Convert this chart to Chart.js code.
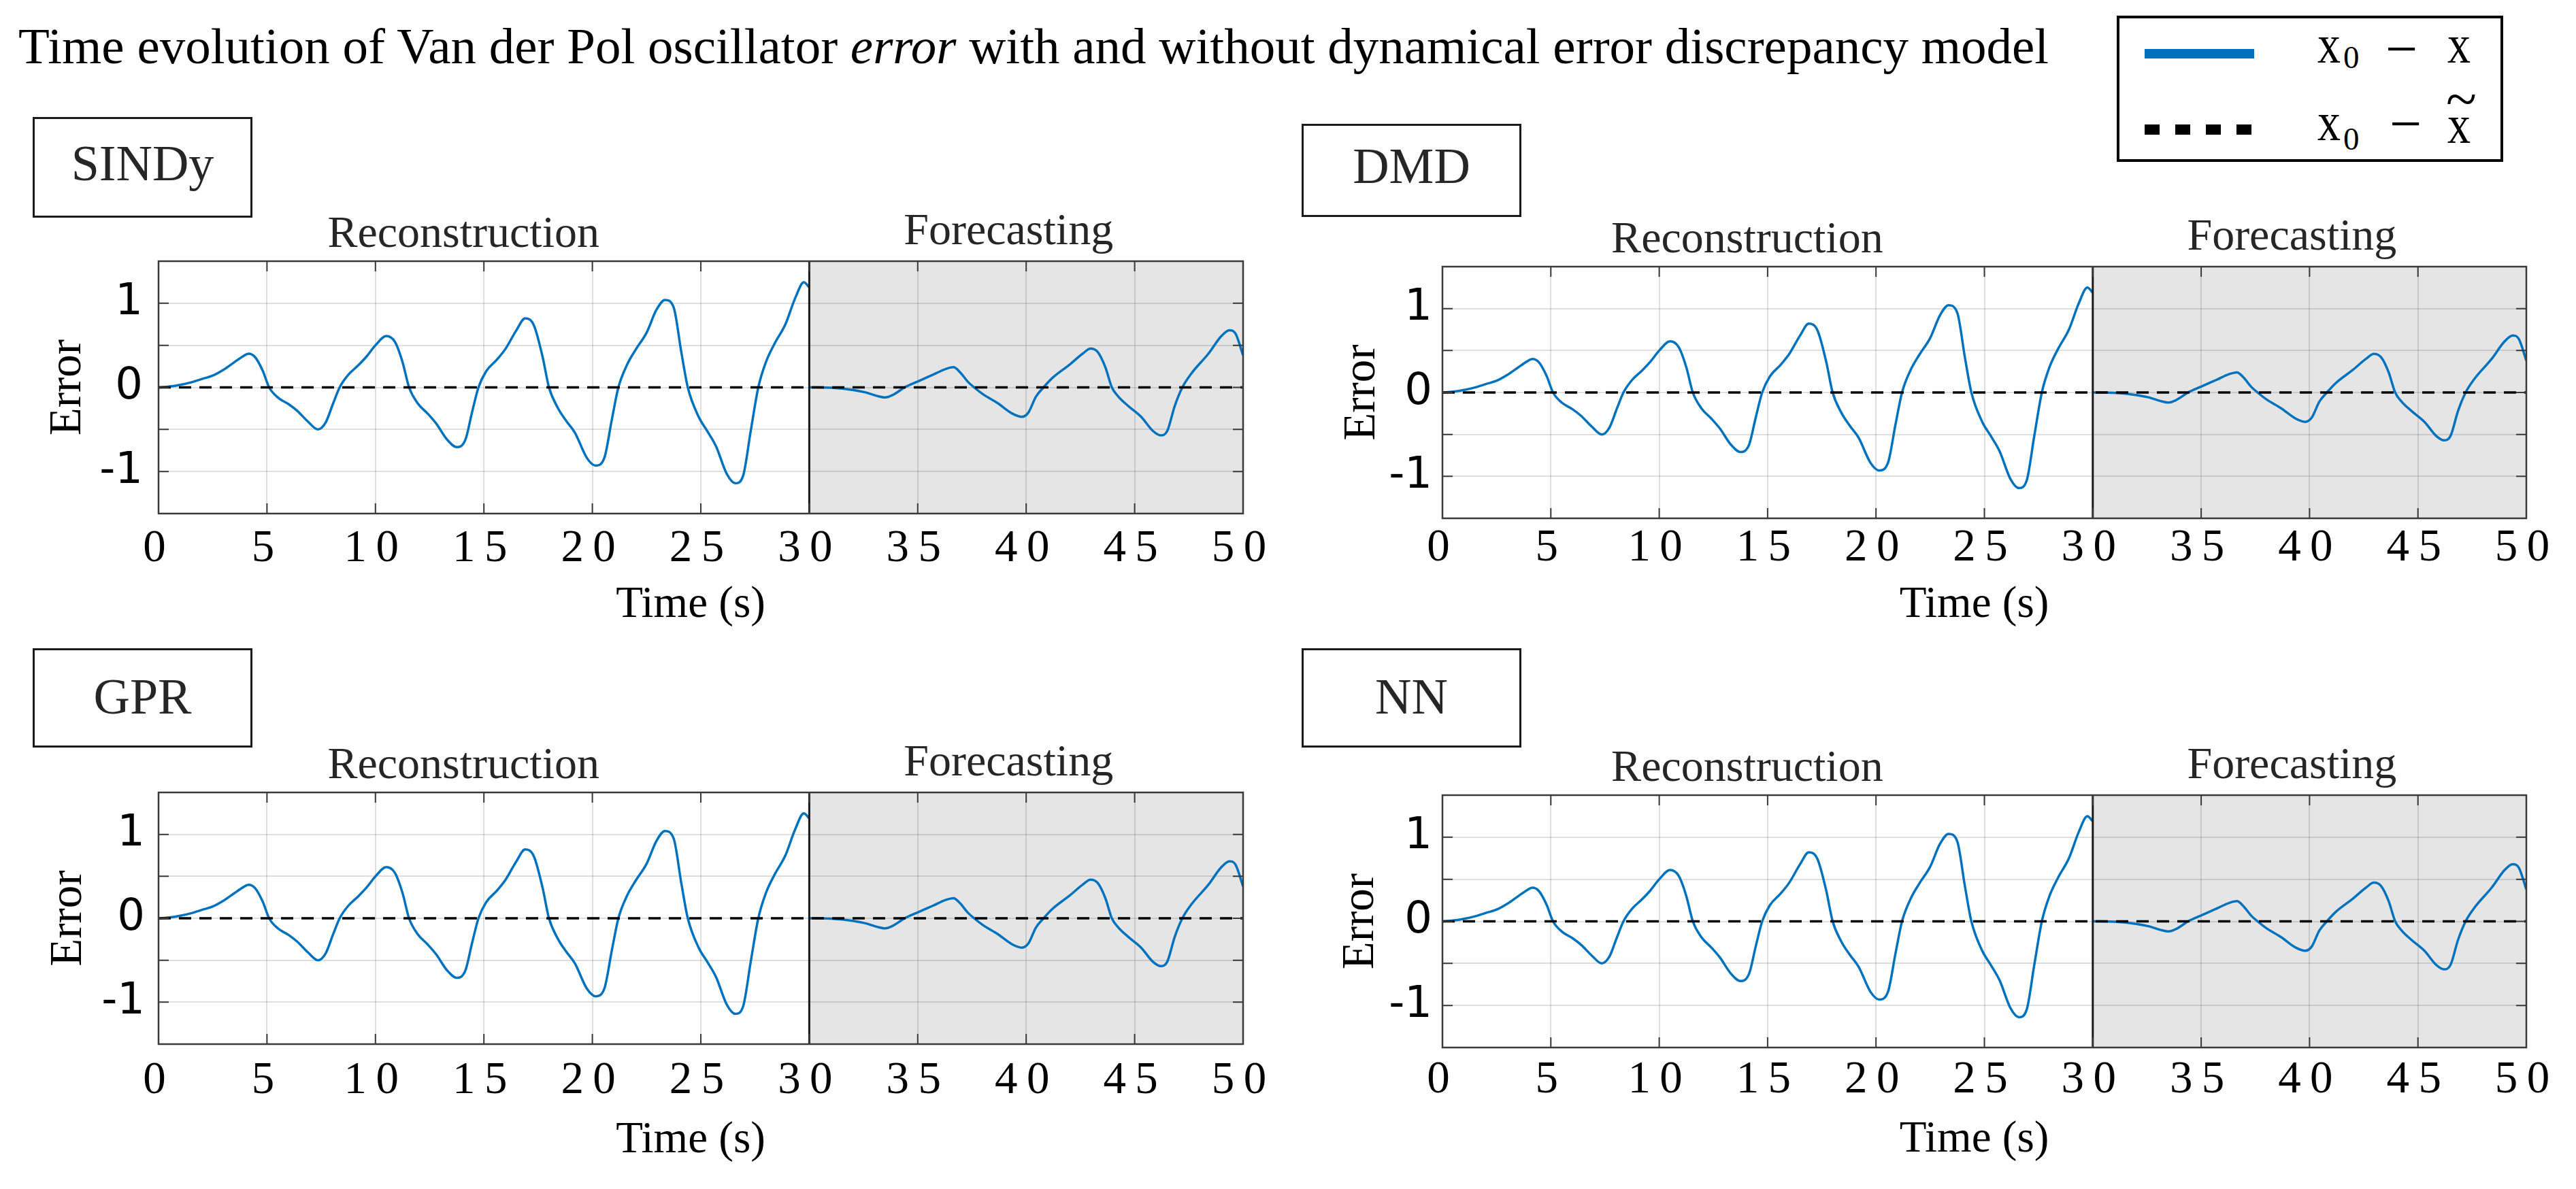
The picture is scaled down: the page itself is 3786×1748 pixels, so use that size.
<!DOCTYPE html>
<html><head><meta charset="utf-8">
<script src="https://cdn.jsdelivr.net/npm/chart.js@4.4.1/dist/chart.umd.min.js"></script>
<style>
html,body{margin:0;padding:0;background:#fff;}
#page{position:relative;width:3786px;height:1748px;overflow:hidden;background:#fff;font-family:"Liberation Serif","Times New Roman",serif;}
.abs{position:absolute;white-space:nowrap;}
canvas{position:absolute;}
.mbox{position:absolute;box-sizing:border-box;border:3px solid #1a1a1a;background:#fff;}
</style></head><body><div id="page"></div>
<script>
// ---------------- DATA ----------------
const methods = ['SINDy', 'DMD', 'GPR', 'NN'];
const phaseNames = ['Reconstruction', 'Forecasting'];
const phaseBounds = [0, 30, 50];
const xAxisTitle = 'Time (s)';
const yAxisTitle = 'Error';

// x0 - x  (reconstruction window)
const reconTime = [0.0,0.5,1.0,1.5,2.0,2.5,3.0,3.5,3.9,4.15,4.45,4.8,5.1,5.5,6.0,6.4,6.9,7.35,7.7,8.05,8.35,8.75,9.2,9.6,10.0,10.5,10.9,11.25,11.55,11.95,12.4,12.8,13.3,13.75,14.15,14.45,14.75,15.1,15.6,16.0,16.5,16.9,17.3,17.7,18.0,18.4,18.8,19.2,19.75,20.15,20.55,20.9,21.2,21.6,22.0,22.5,22.95,23.35,23.75,24.1,24.4,24.9,25.3,25.7,26.2,26.6,26.95,27.3,27.65,28.0,28.4,28.9,29.35,29.75,30.0];
const reconError = [0.00,0.01,0.03,0.06,0.10,0.14,0.21,0.30,0.37,0.40,0.36,0.20,0.00,-0.12,-0.20,-0.28,-0.41,-0.50,-0.42,-0.19,0.00,0.15,0.26,0.37,0.50,0.61,0.54,0.30,0.00,-0.19,-0.31,-0.43,-0.62,-0.71,-0.62,-0.30,0.00,0.19,0.33,0.46,0.68,0.82,0.74,0.37,0.00,-0.24,-0.40,-0.54,-0.84,-0.93,-0.84,-0.38,0.00,0.27,0.45,0.65,0.92,1.04,0.95,0.42,0.00,-0.35,-0.52,-0.70,-1.03,-1.14,-1.05,-0.52,0.00,0.30,0.52,0.75,1.06,1.25,1.19];
// x0 - x  (forecasting window)
const forecastTime = [30.0,31.0,32.0,32.6,33.1,33.5,33.85,34.4,35.0,35.7,36.3,36.65,36.95,37.3,37.65,38.0,38.7,39.35,39.8,40.1,40.45,40.8,41.2,42.0,42.6,42.97,43.3,43.65,43.95,44.25,44.7,45.3,45.85,46.2,46.5,46.85,47.2,47.6,48.4,49.0,49.37,49.65,50.0];
const forecastError = [0.00,-0.005,-0.03,-0.06,-0.10,-0.12,-0.09,0.00,0.07,0.15,0.22,0.24,0.18,0.07,-0.01,-0.08,-0.19,-0.31,-0.35,-0.30,-0.11,0.00,0.11,0.27,0.40,0.46,0.42,0.24,0.00,-0.11,-0.22,-0.35,-0.52,-0.57,-0.52,-0.22,0.00,0.16,0.40,0.61,0.68,0.64,0.38];
// x0 - x~ (with discrepancy model)
const tildeTime = [0, 10, 20, 30, 40, 50];
const tildeError = [0, 0, 0, 0, 0, 0];

const xTickValues = [0,5,10,15,20,25,30,35,40,45,50];
const xTickLabels = ['0','5','10','15','20','25','30','35','40','45','50'];
const yTickValues = [-1, 0, 1];
const yTickLabels = ['-1', '0', '1'];

// ---------------- LAYOUT / STYLE ----------------
const page = document.getElementById('page');
const SERIF = '"Liberation Serif"';
const BLUE = '#0072BD';
const YW = 233, TOPPAD = 90, RIGHTPAD = 80;
const panelGeom = [
  {plotL:233,  plotT:384,  plotW:1594, plotH:371, yTitlePad:66.5, yTickPad:23, xTickPad:19, timeBase:152, box:[48,172,323,148],  labelBase:265},
  {plotL:2120, plotT:392,  plotW:1593, plotH:370, yTitlePad:81.5, yTickPad:15, xTickPad:11, timeBase:145, box:[1913,182,323,137], labelBase:269},
  {plotL:233,  plotT:1165, plotW:1594, plotH:370, yTitlePad:67.5, yTickPad:20, xTickPad:21, timeBase:159, box:[48,953,323,146],  labelBase:1049},
  {plotL:2120, plotT:1169, plotW:1593, plotH:371, yTitlePad:79.5, yTickPad:15, xTickPad:15, timeBase:153, box:[1913,953,323,146], labelBase:1049}
];

function placeText(html, left, baseline, size, extra) {
  const d = document.createElement('div');
  d.className = 'abs';
  d.style.left = left + 'px';
  d.style.top = (baseline - 0.8375 * size) + 'px';
  d.style.fontSize = size + 'px';
  d.style.lineHeight = size + 'px';
  d.innerHTML = html;
  if (extra) Object.assign(d.style, extra);
  page.appendChild(d);
  return d;
}

const spaced = s => s.split('').join('\u2009');

const decor = {
  id: 'decor',
  beforeDraw(chart) {
    const {ctx, chartArea: a, scales: {x}} = chart;
    const x0 = x.getPixelForValue(phaseBounds[1]), x1 = x.getPixelForValue(phaseBounds[2]);
    ctx.save();
    ctx.fillStyle = '#e5e5e5';
    ctx.fillRect(x0, a.top, x1 - x0, a.bottom - a.top);
    ctx.restore();
  },
  afterDatasetsDraw(chart) {
    const {ctx, chartArea: a, scales: {x, y}} = chart;
    ctx.save();
    const xd = x.getPixelForValue(phaseBounds[1]);
    ctx.strokeStyle = '#1a1a1a';
    ctx.lineWidth = 3;
    ctx.beginPath(); ctx.moveTo(xd, a.top); ctx.lineTo(xd, a.bottom); ctx.stroke();
    ctx.strokeStyle = '#3a3a3a';
    ctx.lineWidth = 2.5;
    ctx.strokeRect(a.left, a.top, a.right - a.left, a.bottom - a.top);
    const TL = 15;
    ctx.lineWidth = 2;
    ctx.beginPath();
    x.ticks.forEach(t => {
      const p = x.getPixelForValue(t.value);
      ctx.moveTo(p, a.bottom); ctx.lineTo(p, a.bottom - TL);
      ctx.moveTo(p, a.top); ctx.lineTo(p, a.top + TL);
    });
    y.ticks.forEach(t => {
      const p = y.getPixelForValue(t.value);
      ctx.moveTo(a.left, p); ctx.lineTo(a.left + TL, p);
      ctx.moveTo(a.right, p); ctx.lineTo(a.right - TL, p);
    });
    ctx.stroke();
    ctx.restore();
  },
  afterDraw(chart) {
    const {ctx, chartArea: a, scales: {x}} = chart;
    const g = chart.options.plugins.decor;
    ctx.save();
    ctx.font = '66px ' + SERIF;
    ctx.fillStyle = '#262626';
    ctx.textAlign = 'center';
    ctx.textBaseline = 'alphabetic';
    const c0 = x.getPixelForValue((phaseBounds[0] + phaseBounds[1]) / 2);
    const c1 = x.getPixelForValue((phaseBounds[1] + phaseBounds[2]) / 2);
    ctx.fillText(phaseNames[0], c0 - 30, a.top - 21);
    ctx.fillText(phaseNames[1], c1 - 26, a.top - 25);
    ctx.font = '65px ' + SERIF;
    ctx.fillStyle = '#000';
    ctx.fillText(xAxisTitle, (a.left + a.right) / 2 - 15, a.bottom + g.timeBase);
    ctx.restore();
  }
};

function buildPanel(i) {
  const g = panelGeom[i];
  const xH = g.timeBase + 30;
  const cv = document.createElement('canvas');
  const W = YW + g.plotW + RIGHTPAD, H = TOPPAD + g.plotH + xH;
  cv.width = W; cv.height = H;
  cv.style.width = W + 'px'; cv.style.height = H + 'px';
  cv.style.left = (g.plotL - YW) + 'px';
  cv.style.top = (g.plotT - TOPPAD) + 'px';
  page.appendChild(cv);

  const blue = reconTime.map((t, k) => ({x: t, y: reconError[k]}))
    .concat([{x: phaseBounds[1], y: null}])
    .concat(forecastTime.map((t, k) => ({x: t, y: forecastError[k]})));
  const dashed = tildeTime.map((t, k) => ({x: t, y: tildeError[k]}));
  const gridOpts = {color: 'rgba(38,38,38,0.15)', lineWidth: 2, drawTicks: false};

  new Chart(cv, {
    type: 'line',
    data: {datasets: [
      {label: 'x0 - x~', data: dashed, borderColor: '#000', borderWidth: 3.5, borderDash: [18, 12], pointRadius: 0, order: 0, fill: false},
      {label: 'x0 - x', data: blue, borderColor: BLUE, borderWidth: 3.5, pointRadius: 0, cubicInterpolationMode: 'monotone', spanGaps: false, order: 1, fill: false}
    ]},
    options: {
      responsive: false, animation: false, devicePixelRatio: 1, events: [],
      layout: {padding: {top: TOPPAD, right: RIGHTPAD, left: 0, bottom: 0}},
      plugins: {legend: {display: false}, tooltip: {enabled: false}, decor: {timeBase: g.timeBase}},
      scales: {
        x: {
          type: 'linear', min: phaseBounds[0], max: phaseBounds[2],
          afterFit(s) { s.height = xH; },
          ticks: {stepSize: 5, autoSkip: false, maxRotation: 0, minRotation: 0, padding: g.xTickPad, labelOffset: -6, color: '#000',
            font: {family: 'Liberation Serif', size: 67, lineHeight: 1},
            callback: v => { const k = xTickValues.findIndex(t => Math.abs(t - v) < 1e-9); return k >= 0 ? spaced(xTickLabels[k]) : ''; }},
          grid: gridOpts, border: {display: false},
          title: {display: false}
        },
        y: {
          type: 'linear', min: -1.5, max: 1.5,
          afterFit(s) { s.width = YW; },
          ticks: {stepSize: 0.5, autoSkip: false, padding: g.yTickPad, color: '#000',
            font: {family: 'DejaVu Sans', size: 64, lineHeight: 1},
            callback: v => { const k = yTickValues.findIndex(t => Math.abs(t - v) < 1e-9); return k >= 0 ? yTickLabels[k] : ''; }},
          grid: gridOpts, border: {display: false},
          title: {display: true, text: yAxisTitle, color: '#000', font: {family: 'Liberation Serif', size: 67, lineHeight: 1}, padding: {top: g.yTitlePad, bottom: 0}}
        }
      }
    },
    plugins: [decor]
  });

  const b = document.createElement('div');
  b.className = 'mbox';
  b.style.left = g.box[0] + 'px'; b.style.top = g.box[1] + 'px';
  b.style.width = g.box[2] + 'px'; b.style.height = g.box[3] + 'px';
  page.appendChild(b);
  placeText(methods[i], g.box[0], g.labelBase, 74, {width: g.box[2] + 'px', textAlign: 'center', color: '#262626'});
}

// title
placeText('Time evolution of Van der Pol oscillator <i>error</i> with and without dynamical error discrepancy model', 27, 92.5, 75, {color: '#000'});

for (let i = 0; i < 4; i++) buildPanel(i);

// legend
(function () {
  const box = document.createElement('div');
  Object.assign(box.style, {position: 'absolute', left: '3111px', top: '23px', width: '568px', height: '215px', boxSizing: 'border-box', border: '4px solid #000', background: '#fff'});
  page.appendChild(box);
  const l1 = document.createElement('div');
  Object.assign(l1.style, {position: 'absolute', left: '3152px', top: '72px', width: '161px', height: '14px', background: BLUE});
  page.appendChild(l1);
  const l2 = document.createElement('div');
  Object.assign(l2.style, {position: 'absolute', left: '3152px', top: '183px', width: '157px', height: '15px', background: 'repeating-linear-gradient(90deg,#000 0 22px,transparent 22px 45px)'});
  page.appendChild(l2);
  const xs = {transform: 'scaleX(0.85)', transformOrigin: 'left top', color: '#000'};
  placeText('x', 3406, 92, 80, xs);
  placeText('0', 3444, 100, 47, {color: '#000'});
  placeText('\u2212', 3506, 100.5, 84, {color: '#000'});
  placeText('x', 3597, 92, 80, xs);
  placeText('x', 3406, 205.5, 80, xs);
  placeText('0', 3444, 220, 47, {color: '#000'});
  placeText('\u2212', 3512, 210, 84, {color: '#000'});
  placeText('x', 3597, 209.5, 80, xs);
  placeText('~', 3595, 173.5, 83, {color: '#000'});
})();
</script></body></html>
